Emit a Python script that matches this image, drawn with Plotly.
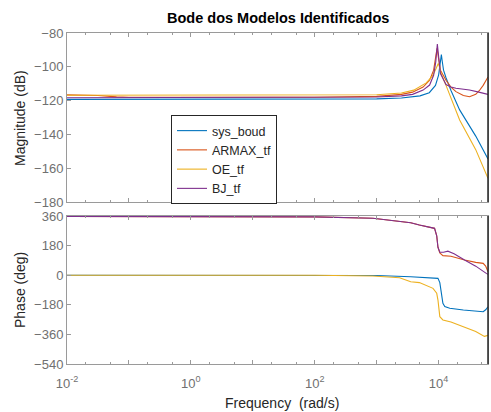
import plotly.graph_objects as go

# ---- data (log10 of frequency in rad/s, and values) ----
names = ["sys_boud", "ARMAX_tf", "OE_tf", "BJ_tf"]
colors = ["#0072BD", "#D95319", "#EDB120", "#7E2F8E"]

# Magnitude (dB)
mag_sys_lw = [-2, 0, 2, 3, 3.4, 3.7, 3.85, 3.95, 4.0, 4.03, 4.045, 4.06, 4.08, 4.12, 4.2, 4.34, 4.6, 4.798]
mag_sys = [-119.3, -119.3, -119.2, -119.0, -118.5, -117.2, -115.3, -111, -105, -97, -92.8, -97, -102, -106.5, -114, -125.5, -141, -154.5]

mag_armax_lw = [-2, -1.5, -1.2, -1, 2, 3, 3.4, 3.58, 3.75, 3.855, 3.92, 3.955, 3.975, 3.995, 4.03, 4.12, 4.2, 4.28, 4.4, 4.5, 4.6, 4.66, 4.72, 4.798]
mag_armax = [-116.6, -117.0, -117.8, -118, -118, -117.5, -116.3, -115, -112, -108, -102, -95, -89, -94, -102, -108, -112, -114.7, -117, -117.7, -116.3, -114, -111, -106]

mag_oe_lw = [-2, 2, 3, 3.4, 3.6, 3.8, 3.9, 3.96, 3.995, 4.01, 4.04, 4.12, 4.34, 4.6, 4.798]
mag_oe = [-116.8, -116.8, -116.5, -115.5, -113.8, -109.5, -105.5, -101, -98, -99.5, -104, -111, -131.5, -149, -166]

mag_bj_lw = [-2, 2, 3, 3.4, 3.58, 3.75, 3.855, 3.92, 3.955, 3.98, 4.0, 4.03, 4.12, 4.2, 4.28, 4.5, 4.65, 4.798]
mag_bj = [-118.3, -118.3, -117.9, -117.2, -116.3, -113.8, -110.8, -105, -97, -86.5, -95, -104, -110.5, -112, -112.7, -113.7, -115, -116.3]

# Phase (deg)
ph_sys_lw = [-2, 2, 3, 3.55, 3.8, 3.99, 4.02, 4.04, 4.07, 4.1, 4.18, 4.4, 4.6, 4.72, 4.76, 4.798]
ph_sys = [0, 0, -2, -9, -13, -19, -45, -90, -171, -190, -201, -212, -220, -222, -210, -192]

ph_armax_lw = [-2, 1, 2, 2.94, 3.37, 3.55, 3.69, 3.935, 3.97, 3.99, 4.02, 4.07, 4.2, 4.42, 4.6, 4.72, 4.76, 4.798]
ph_armax = [358, 358, 355, 346, 330, 319, 305, 285, 240, 170, 135, 119, 115, 92, 78, 72, 55, 21]

ph_oe_lw = [-2, 2, 2.94, 3.37, 3.55, 3.69, 3.91, 3.935, 3.97, 3.99, 4.02, 4.07, 4.2, 4.6, 4.74, 4.798]
ph_oe = [0, 0, -5, -15, -40, -45, -80, -90, -110, -151, -252, -272, -285, -342, -372, -366]

ph_bj_lw = [-2, 1, 2, 2.94, 3.37, 3.55, 3.69, 3.935, 3.97, 3.99, 4.02, 4.08, 4.15, 4.25, 4.42, 4.6, 4.77, 4.798]
ph_bj = [358, 358, 355, 346, 330, 319, 305, 285, 240, 170, 140, 140, 146, 130, 92, 55, 11, 5]

xtick_vals = [0.01, 0.1, 1, 10, 100, 1000, 10000]
xtick_text = ["10<sup>-2</sup>", "", "10<sup>0</sup>", "", "10<sup>2</sup>", "", "10<sup>4</sup>"]
mag_ticks = [-180, -160, -140, -120, -100, -80]
ph_ticks = [-540, -360, -180, 0, 180, 360]

mags = [(mag_sys_lw, mag_sys), (mag_armax_lw, mag_armax), (mag_oe_lw, mag_oe), (mag_bj_lw, mag_bj)]
phs = [(ph_sys_lw, ph_sys), (ph_armax_lw, ph_armax), (ph_oe_lw, ph_oe), (ph_bj_lw, ph_bj)]

fig = go.Figure()
for i, (lw, v) in enumerate(mags):
    fig.add_trace(go.Scatter(x=[10 ** e for e in lw], y=v, mode="lines", name=names[i],
                             line=dict(color=colors[i], width=1.1), xaxis="x", yaxis="y"))
for i, (lw, v) in enumerate(phs):
    fig.add_trace(go.Scatter(x=[10 ** e for e in lw], y=v, mode="lines", name=names[i],
                             line=dict(color=colors[i], width=1.1), xaxis="x2", yaxis="y2",
                             showlegend=False))

FONT = "Liberation Sans, Arial, sans-serif"
axcol = "#9a9a9a"
tickfont = dict(family=FONT, size=13, color="#707070")
xr = [-2, 4.798]

common_x = dict(type="log", range=xr, showgrid=False, zeroline=False, showline=True,
                linecolor=axcol, linewidth=1, ticks="inside", ticklen=4, tickcolor=axcol,
                mirror="allticks", tickvals=xtick_vals, ticktext=xtick_text,
                minor=dict(ticks="inside", ticklen=2, tickcolor=axcol, showgrid=False),
                tickfont=tickfont)

fig.update_layout(
    width=491, height=412,
    margin=dict(l=67, r=3, t=33, b=48),
    paper_bgcolor="white", plot_bgcolor="white",
    showlegend=True,
    legend=dict(x=(171 - 67) / 421, y=(412 - 48 - 115) / 331, xanchor="left", yanchor="top",
                bgcolor="white", bordercolor="#262626", borderwidth=1,
                font=dict(family=FONT, size=12.5, color="#262626"),
                tracegroupgap=0, itemwidth=30),
    xaxis=dict(common_x, anchor="y", showticklabels=False, domain=[0, 1]),
    yaxis=dict(domain=[0.4894, 1], range=[-180, -80], tickvals=mag_ticks, showgrid=False,
               zeroline=False, showline=True, linecolor=axcol, ticks="inside", ticklen=4,
               tickcolor=axcol, mirror=True, tickfont=tickfont, anchor="x"),
    xaxis2=dict(common_x, anchor="y2", showticklabels=True, domain=[0, 1], ticklabelstandoff=7),
    yaxis2=dict(domain=[0, 0.4471], range=[-540, 360], tickvals=ph_ticks, showgrid=False,
                zeroline=False, showline=True, linecolor=axcol, ticks="inside", ticklen=4,
                tickcolor=axcol, mirror=True, tickfont=tickfont, anchor="x2"),
)

# dark right edges
for xa, ya in [("x", "y"), ("x2", "y2")]:
    fig.add_shape(type="line", xref=f"{xa} domain", yref=f"{ya} domain", x0=1, x1=1, y0=0, y1=1,
                  line=dict(color="#262626", width=1.5))

fig.add_annotation(text="<b>Bode dos Modelos Identificados</b>", xref="paper", yref="paper",
                   x=0.5, y=(412 - 18 - 48) / 331, xanchor="center", yanchor="middle",
                   showarrow=False, font=dict(family=FONT, size=14.5, color="#000000"))
fig.add_annotation(text="Magnitude (dB)", xref="paper", yref="paper", x=(20 - 67) / 421,
                   y=(412 - 118 - 48) / 331, xanchor="center", yanchor="middle", textangle=-90,
                   showarrow=False, font=dict(family=FONT, size=14, color="#262626"))
fig.add_annotation(text="Phase (deg)", xref="paper", yref="paper", x=(20 - 67) / 421,
                   y=(412 - 290 - 48) / 331, xanchor="center", yanchor="middle", textangle=-90,
                   showarrow=False, font=dict(family=FONT, size=14, color="#262626"))
fig.add_annotation(text="Frequency  (rad/s)", xref="paper", yref="paper", x=(282 - 67) / 421,
                   y=(412 - 403 - 48) / 331, xanchor="center", yanchor="middle",
                   showarrow=False, font=dict(family=FONT, size=14, color="#262626"))

fig.write_html("out.html")
